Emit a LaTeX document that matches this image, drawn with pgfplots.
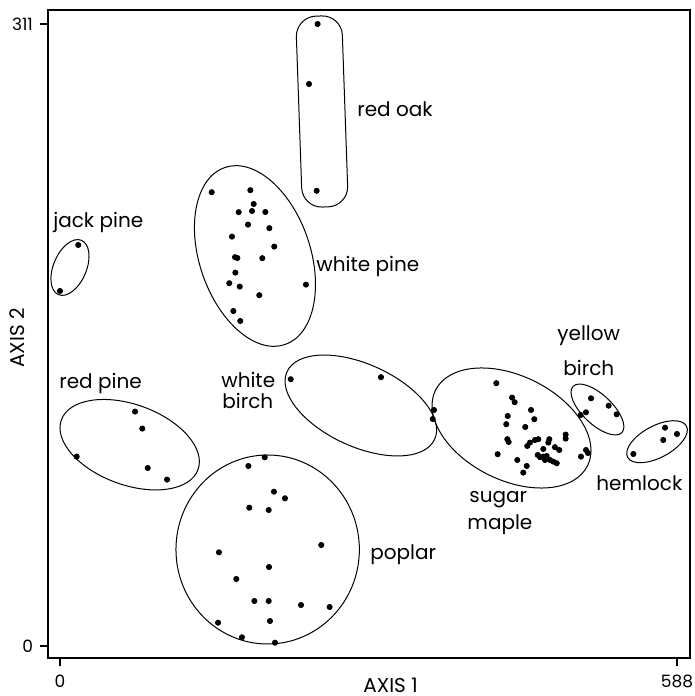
\documentclass[border=0pt]{standalone}
\usepackage{pgfplots}
\pgfplotsset{compat=1.18}
\usepackage{fontspec}
\setmainfont{Poppins}
\usetikzlibrary{shapes.geometric}
\begin{document}
\begin{tikzpicture}[
  lbl/.style={font=\fontsize{10}{12}\selectfont, inner sep=0pt},
  ell/.style={draw, ellipse, inner sep=0pt, outer sep=0pt, line width=0.5pt},
]
\begin{axis}[
  scale only axis, width=321pt, height=324pt,
  xmin=-11.44, xmax=600.4, ymin=-6, ymax=318,
  axis line style={line width=1pt},
  xtick={0,588}, ytick={0,311},
  tick pos=left, tick align=outside,
  major tick length=4pt,
  every tick/.style={black, line width=1pt},
  /pgf/number format/assume math mode=true,
  /pgf/number format/1000 sep={},
  ticklabel style={font=\fontsize{8.5}{10}\selectfont},
  xticklabel style={yshift=-1pt},
  clip=false,
  cycle list={{black, mark=*, mark options={solid, fill=black}}},
  every axis plot/.append style={only marks, mark size=1.3pt},
]
% red oak
\addplot coordinates {(245.5,311) (237.3,281) (244.6,227.6)};
% jack pine
\addplot coordinates {(17.4,200.5) (0,177.5)};
% white pine
\addplot coordinates {(144.6,226.9) (181.4,227.9) (184.6,221) (170.3,216.9) (183.0,217.5)
 (195.7,217) (179.2,210.7) (199.5,208.9) (163.9,204.7) (204.2,199.7) (166.8,194.4)
 (169.0,194) (192.8,193.9) (167.1,186.7) (161.3,181.4) (171.3,179.7) (234.4,180.7)
 (189.9,175.4) (165.2,167.5) (171.8,162.5)};
% red pine
\addplot coordinates {(71.5,117.2) (78.4,108.7) (15.9,94.7) (83.6,89) (102,83.2)};
% white birch
\addplot coordinates {(219.9,133.4) (305.9,134.4) (356.4,118) (355.2,113.5)};
% sugar maple
\addplot coordinates {(415.8,131.4) (430.8,124.2) (433.3,121.9) (426.7,115) (448.9,118)
 (452.0,113.4) (425.3,110.9) (443.4,109.5) (426.3,103.4) (427.6,102) (481.9,105.7)
 (481.9,103.7) (466.3,103.4) (465.4,101.7) (447.9,101.7) (452.7,103) (455.8,103.4)
 (445.3,100) (471.7,99.4) (475.8,98) (460.6,98.5) (455.3,95.5) (457.5,94.4) (460.6,94.7)
 (463.8,95) (462.2,93) (467.0,93) (470.1,92.2) (473.4,91.4) (417.1,95.9) (435.8,93)
 (444.8,90) (441.5,86.7) (496.5,94.7) (501.3,98) (503.2,96.5)};
% yellow birch
\addplot coordinates {(506.1,123.85) (522.9,120.15) (530.5,115.85) (496.2,115.5) (501.3,116.85)};
% hemlock
\addplot coordinates {(576.6,109.15) (588,106) (574.9,103) (546.4,96)};
% poplar
\addplot coordinates {(195.1,94.35) (179.5,90) (203.9,77.15) (214.4,73.85) (180.4,69.15)
 (198.9,68) (249.0,50.5) (151.5,46.85) (199.2,39.5) (168.0,33.5) (185.2,22.5)
 (198.9,22.5) (229.7,20.5) (257.0,19.5) (150.6,11.65) (200.1,12.5) (173.4,4.35) (204.9,1.65)};

% group outlines
\node[draw, rectangle, rounded corners=10pt, inner sep=0pt, outer sep=0pt, line width=0.5pt,
      minimum width=23pt, minimum height=95.5pt, rotate=2] at (axis cs:249.7,267.25) {};
\node[ell, minimum width=29.5pt, minimum height=16.5pt, rotate=67] at (axis cs:9.5,189.25) {};
\node[ell, minimum width=93.5pt, minimum height=55.5pt, rotate=108.7] at (axis cs:185.8,195) {};
\node[ell, minimum width=72.7pt, minimum height=40.2pt, rotate=-20] at (axis cs:66.4,100.65) {};
\node[ell, minimum width=81.2pt, minimum height=41.2pt, rotate=-24.6] at (axis cs:286.7,120.25) {};
\node[ell, minimum width=84.9pt, minimum height=52.1pt, rotate=-26.4] at (axis cs:430.3,109) {};
\node[ell, minimum width=33.6pt, minimum height=14.8pt, rotate=-43.4] at (axis cs:512.2,118.25) {};
\node[ell, minimum width=33.3pt, minimum height=15.9pt, rotate=28] at (axis cs:569,102.15) {};
\node[ell, minimum width=91.7pt, minimum height=94.5pt] at (axis cs:197.9,48.25) {};

% labels
\node[lbl, anchor=base west] at (axis cs:283.0,264.5) {red oak};
\node[lbl, anchor=base west] at (axis cs:-6.7,209) {jack pine};
\node[lbl, anchor=base west] at (axis cs:244.0,187) {white pine};
\node[lbl, anchor=base west] at (axis cs:-1.0,128.5) {red pine};
\node[lbl, anchor=base west] at (axis cs:153.4,129) {white};
\node[lbl, anchor=base west] at (axis cs:154.4,118.5) {birch};
\node[lbl, anchor=base west] at (axis cs:473.6,152.5) {yellow};
\node[lbl, anchor=base west] at (axis cs:479.4,135) {birch};
\node[lbl, anchor=base west] at (axis cs:510.8,77.5) {hemlock};
\node[lbl, anchor=base west] at (axis cs:389.8,71.5) {sugar};
\node[lbl, anchor=base west] at (axis cs:387.9,58) {maple};
\node[lbl, anchor=base west] at (axis cs:295.4,43) {poplar};
\node[lbl, anchor=base] at (axis cs:315,-23) {AXIS 1};
\node[lbl, rotate=90, anchor=center] at (axis cs:-41,154) {AXIS 2};

\coordinate (bl) at (rel axis cs:0,0);
\coordinate (tr) at (rel axis cs:1,1);
\end{axis}
\pgfresetboundingbox
\path ([xshift=-24pt,yshift=-19pt]bl) rectangle ([xshift=2.5pt,yshift=5pt]tr);
\end{tikzpicture}
\end{document}
